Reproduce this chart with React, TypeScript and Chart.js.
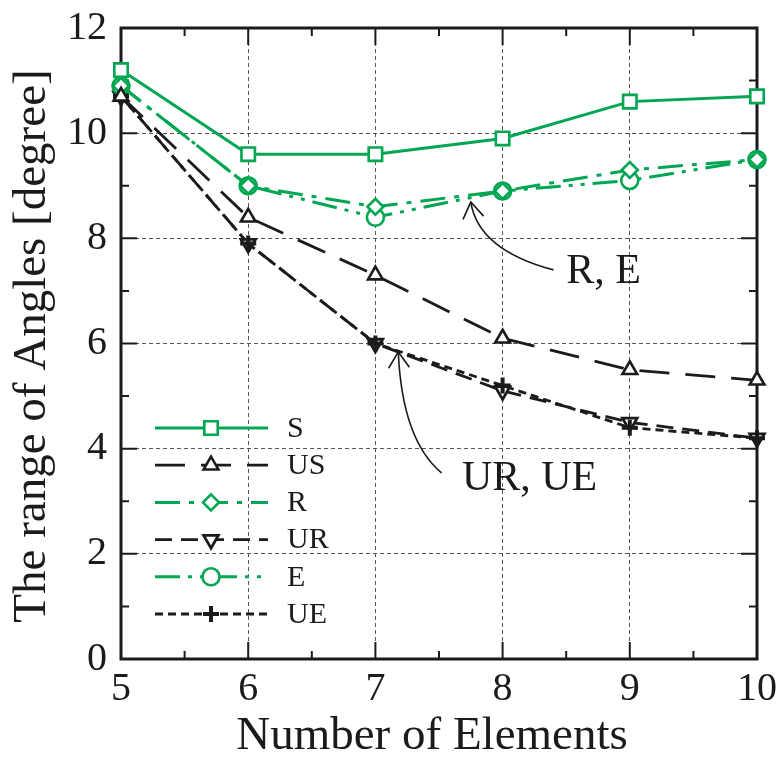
import React, { useEffect, useRef } from 'react';
import { Chart, registerables } from 'chart.js';
import { drawPoint } from 'chart.js/helpers';

Chart.register(...registerables);

// Number of elements on the x axis
const elements = [5, 6, 7, 8, 9, 10];

// Range of angles [degree] for each method
const sValues = [11.2, 9.6, 9.6, 9.9, 10.6, 10.7];
const usValues = [10.7, 8.4, 7.3, 6.1, 5.5, 5.3];
const rValues = [10.9, 9.0, 8.6, 8.9, 9.3, 9.5];
const urValues = [10.7, 7.9, 6.0, 5.1, 4.5, 4.2];
const eValues = [10.9, 9.0, 8.4, 8.9, 9.1, 9.5];
const ueValues = [10.7, 7.9, 6.0, 5.2, 4.4, 4.2];

const seriesNames = ['S', 'US', 'R', 'UR', 'E', 'UE'];

// Axis ticks
const xTicks = [5, 6, 7, 8, 9, 10];
const yTicks = [0, 2, 4, 6, 8, 10, 12];

// Callout labels with curved arrows, in data units: text anchor, curve start, control, arrow tip
const calloutTexts = ['R, E', 'UR, UE'];
const calloutTextPos = [[8.5, 7.15], [7.68, 3.21]];
const calloutStart = [[8.4, 7.4], [7.52, 3.54]];
const calloutControl = [[7.81, 7.78], [7.21, 4.17]];
const calloutTip = [[7.75, 8.69], [7.18, 5.84]];

const GREEN = '#00a651';
const INK = '#1c1a1b';
const SERIF = '"Liberation Serif", "Times New Roman", serif';

const toPoints = (vals: number[]) => elements.map((x, i) => ({ x, y: vals[i] }));

const framePlugin = {
  id: 'frameTicks',
  beforeDatasetsDraw(chart: any) {
    const { ctx, chartArea: a, scales } = chart;
    const xs = scales.x;
    const ys = scales.y;
    ctx.save();
    ctx.strokeStyle = INK;
    ctx.lineWidth = 2;
    ctx.setLineDash([]);
    ctx.beginPath();
    for (let v = xs.min; v <= xs.max + 1e-9; v += 0.5) {
      const px = xs.getPixelForValue(v);
      const len = Math.abs(v - Math.round(v)) < 1e-9 ? 17 : 8;
      ctx.moveTo(px, a.bottom);
      ctx.lineTo(px, a.bottom - len);
      ctx.moveTo(px, a.top);
      ctx.lineTo(px, a.top + len);
    }
    for (let v = ys.min; v <= ys.max + 1e-9; v += 1) {
      const py = ys.getPixelForValue(v);
      const len = Math.round(v) % 2 === 0 ? 16 : 8;
      ctx.moveTo(a.left, py);
      ctx.lineTo(a.left + len, py);
      ctx.moveTo(a.right, py);
      ctx.lineTo(a.right - len, py);
    }
    ctx.stroke();
    ctx.lineWidth = 3;
    ctx.strokeRect(a.left, a.top, a.width, a.height);
    ctx.restore();
  },
};

const legendPlugin = {
  id: 'lineLegend',
  afterDatasetsDraw(chart: any) {
    const { ctx, chartArea: a } = chart;
    const x0 = a.left + 34;
    const x1 = a.left + 147;
    const xm = a.left + 90;
    const xt = a.left + 166;
    const y0 = 428;
    const gap = 37.2;
    ctx.save();
    chart.data.datasets.forEach((ds: any, i: number) => {
      const y = y0 + i * gap;
      ctx.strokeStyle = ds.borderColor;
      ctx.lineWidth = ds.borderWidth;
      ctx.setLineDash(ds.borderDash || []);
      ctx.beginPath();
      ctx.moveTo(x0, y);
      ctx.lineTo(x1, y);
      ctx.stroke();
      ctx.setLineDash([]);
      ctx.fillStyle = ds.pointBackgroundColor;
      ctx.strokeStyle = ds.pointBorderColor;
      ctx.lineWidth = ds.pointBorderWidth;
      drawPoint(ctx, {
        pointStyle: ds.pointStyle,
        rotation: ds.pointRotation || 0,
        radius: ds.pointRadius,
        borderWidth: ds.pointBorderWidth,
      } as any, xm, y);
      ctx.fillStyle = INK;
      ctx.font = `30px ${SERIF}`;
      ctx.textAlign = 'left';
      ctx.textBaseline = 'middle';
      ctx.fillText(ds.label, xt, y + 1);
    });
    ctx.restore();
  },
};

const annotationPlugin = {
  id: 'callouts',
  afterDraw(chart: any) {
    const { ctx, scales } = chart;
    const xs = scales.x;
    const ys = scales.y;
    const P = (p: number[]) => [xs.getPixelForValue(p[0]), ys.getPixelForValue(p[1])];
    ctx.save();
    ctx.strokeStyle = INK;
    ctx.fillStyle = INK;
    ctx.lineWidth = 1.6;
    ctx.setLineDash([]);
    calloutTexts.forEach((txt, i) => {
      const [sx, sy] = P(calloutStart[i]);
      const [cx, cy] = P(calloutControl[i]);
      const [tx, ty] = P(calloutTip[i]);
      ctx.beginPath();
      ctx.moveTo(sx, sy);
      ctx.quadraticCurveTo(cx, cy, tx, ty);
      ctx.stroke();
      // open arrow head along the end tangent
      const ang = Math.atan2(ty - cy, tx - cx);
      const arm = 19;
      const spread = 0.58;
      ctx.beginPath();
      ctx.moveTo(tx - arm * Math.cos(ang - spread), ty - arm * Math.sin(ang - spread));
      ctx.lineTo(tx, ty);
      ctx.lineTo(tx - arm * Math.cos(ang + spread), ty - arm * Math.sin(ang + spread));
      ctx.stroke();
      const [lx, ly] = P(calloutTextPos[i]);
      ctx.font = `42px ${SERIF}`;
      ctx.textAlign = 'left';
      ctx.textBaseline = 'alphabetic';
      ctx.fillText(txt, lx, ly);
    });

    // axis titles
    ctx.font = `47px ${SERIF}`;
    ctx.textAlign = 'center';
    ctx.textBaseline = 'alphabetic';
    ctx.fillText('Number of Elements', 432, 749);
    ctx.save();
    ctx.translate(45, 346);
    ctx.rotate(-Math.PI / 2);
    ctx.fillText('The range of Angles [degree]', 0, 0);
    ctx.restore();
    ctx.restore();
  },
};

export default function App() {
  const canvasRef = useRef<HTMLCanvasElement | null>(null);

  useEffect(() => {
    if (!canvasRef.current) return;
    const common = {
      fill: false,
      tension: 0,
      clip: false as any,
      pointBackgroundColor: '#ffffff',
      pointHoverRadius: 8,
      order: 0,
    };
    const chart = new Chart(canvasRef.current, {
      type: 'line',
      data: {
        datasets: [
          { ...common, label: seriesNames[0], data: toPoints(sValues), borderColor: GREEN, borderWidth: 3, borderDash: [], pointStyle: 'rect', pointRadius: 9.5, pointBorderColor: GREEN, pointBorderWidth: 2.6 },
          { ...common, label: seriesNames[1], data: toPoints(usValues), borderColor: INK, borderWidth: 2.8, borderDash: [30, 16], pointStyle: 'triangle', pointRadius: 8.5, pointBorderColor: INK, pointBorderWidth: 2.6 },
          { ...common, label: seriesNames[2], data: toPoints(rValues), borderColor: GREEN, borderWidth: 3, borderDash: [25, 9, 5, 9], pointStyle: 'rectRot', pointRadius: 8, pointBorderColor: GREEN, pointBorderWidth: 2.6 },
          { ...common, order: 1, label: seriesNames[3], data: toPoints(urValues), borderColor: INK, borderWidth: 2.8, borderDash: [17, 9], pointStyle: 'triangle', pointRotation: 180, pointRadius: 8.5, pointBorderColor: INK, pointBorderWidth: 2.8 },
          { ...common, label: seriesNames[4], data: toPoints(eValues), borderColor: GREEN, borderWidth: 3, borderDash: [25, 8, 4, 8, 4, 8], pointStyle: 'circle', pointRadius: 8.5, pointBorderColor: GREEN, pointBorderWidth: 2.6 },
          { ...common, label: seriesNames[5], data: toPoints(ueValues), borderColor: INK, borderWidth: 2.8, borderDash: [8, 5], pointStyle: 'cross', pointRadius: 8, pointBorderColor: INK, pointBorderWidth: 4 },
        ] as any,
      },
      options: {
        animation: false,
        responsive: false,
        maintainAspectRatio: false,
        layout: { padding: { top: 28, right: 22, left: 0, bottom: 0 } },
        plugins: {
          legend: { display: false },
          tooltip: { enabled: false },
          title: { display: false },
        },
        scales: {
          x: {
            type: 'linear',
            min: 5,
            max: 10,
            afterFit: (s: any) => {
              s.height = 101;
              s.paddingLeft = 0;
              s.paddingRight = 0;
            },
            afterBuildTicks: (s: any) => { s.ticks = xTicks.map((v) => ({ value: v })); },
            grid: { color: '#555555', lineWidth: 1, drawTicks: false },
            border: { display: false, dash: [4, 3] },
            ticks: { font: { family: SERIF, size: 40 }, color: INK, padding: 6, maxRotation: 0 },
          },
          y: {
            type: 'linear',
            min: 0,
            max: 12,
            afterFit: (s: any) => {
              s.width = 121;
              s.paddingTop = 0;
              s.paddingBottom = 0;
            },
            afterBuildTicks: (s: any) => { s.ticks = yTicks.map((v) => ({ value: v })); },
            grid: { color: '#555555', lineWidth: 1, drawTicks: false },
            border: { display: false, dash: [4, 3] },
            ticks: { font: { family: SERIF, size: 40 }, color: INK, padding: 14 },
          },
        },
      } as any,
      plugins: [framePlugin, legendPlugin, annotationPlugin],
    });
    return () => chart.destroy();
  }, []);

  return (
    <div style={{ position: 'absolute', left: 0, top: 0, width: 779, height: 760, background: '#ffffff' }}>
      <canvas ref={canvasRef} width={779} height={760} style={{ display: 'block' }} />
    </div>
  );
}
